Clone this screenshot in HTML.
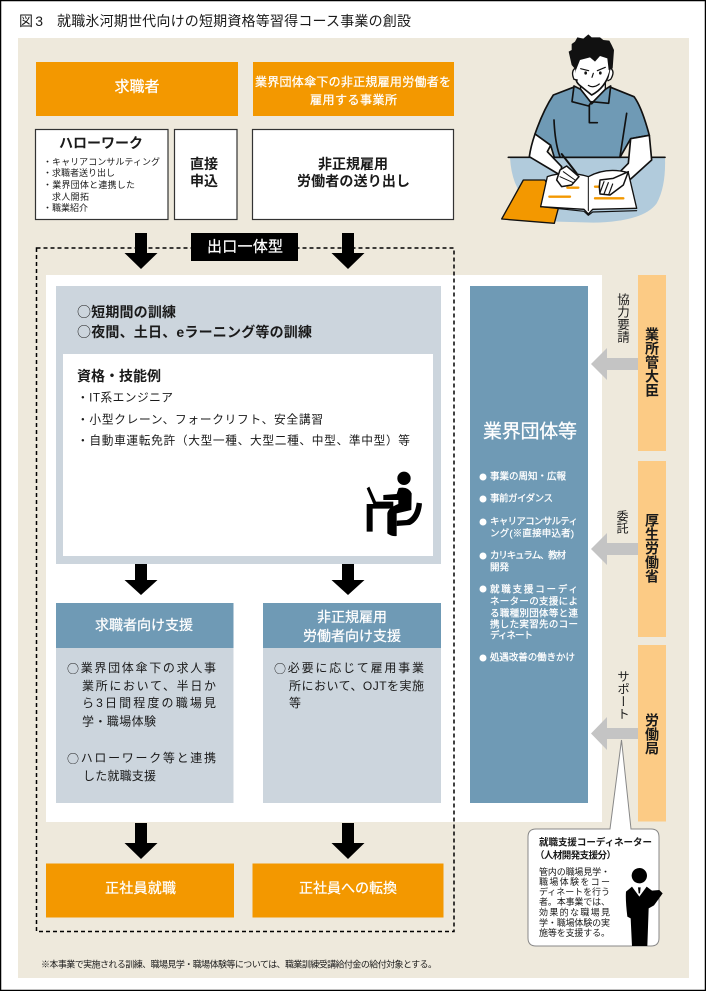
<!DOCTYPE html>
<html lang="ja"><head><meta charset="utf-8">
<style>
html,body{margin:0;padding:0;background:#fff}
svg{display:block}
text{font-family:"Liberation Sans","Noto Sans CJK JP",sans-serif;dominant-baseline:central;fill:#1a1a1a}
.b{font-weight:700}
.w{fill:#fff}
.m{stroke:#fff;stroke-width:.25}
.c{font-family:"Noto Sans CJK JP",sans-serif;font-weight:400}
.v{writing-mode:vertical-rl;dominant-baseline:auto}
</style></head><body>
<svg width="706" height="991" viewBox="0 0 706 991" xmlns="http://www.w3.org/2000/svg">
<defs>
<path id="ar" d="M-6 0H6V20H16.500L0 36L-16.500 20H-6Z" fill="#000"/>
<path id="ar2" d="M-6 0H6V16H16.500L0 31L-16.500 16H-6Z" fill="#000"/>
</defs>
<rect x="0.500" y="0.500" width="705" height="990" fill="#fff" stroke="#000" stroke-width="1.500"/>
<text x="19" y="21" font-size="14" textLength="24">図3</text>
<text x="57" y="21" font-size="14" textLength="354">就職氷河期世代向けの短期資格等習得コース事業の創設</text>
<rect x="18" y="38" width="671" height="940" fill="#eee9dc"/>

<rect x="36" y="62" width="202" height="54" fill="#f39800"/>
<rect x="253" y="62" width="201" height="54" fill="#f39800"/>
<text class="w m" x="114.500" y="87" font-size="15" textLength="45">求職者</text>
<text class="w m" x="255" y="82" font-size="12" textLength="196">業界団体傘下の非正規雇用労働者を</text>
<text class="w m" x="310" y="100" font-size="12" textLength="87">雇用する事業所</text>

<g fill="#fff" stroke="#333" stroke-width="1.200">
<rect x="35.500" y="129.500" width="132.500" height="90"/>
<rect x="174.500" y="129.500" width="62.500" height="90"/>
<rect x="252.500" y="129.500" width="201" height="90"/>
</g>
<text class="b" x="59" y="143" font-size="14" textLength="84">ハローワーク</text>
<g font-size="9">
<text x="43" y="162" textLength="117">・キャリアコンサルティング</text>
<text x="43" y="173" textLength="72">・求職者送り出し</text>
<text x="43" y="185" textLength="92">・業界団体と連携した</text>
<text x="52" y="197" textLength="37">求人開拓</text>
<text x="43" y="208" textLength="45">・職業紹介</text>
</g>
<text class="b" x="190" y="164" font-size="14" textLength="28">直接</text>
<text class="b" x="190" y="181" font-size="14" textLength="28">申込</text>
<text class="b" x="318" y="164" font-size="14" textLength="70">非正規雇用</text>
<text class="b" x="297" y="181" font-size="14" textLength="113">労働者の送り出し</text>

<rect x="46" y="275" width="556" height="547" fill="#fff"/>
<rect x="36.500" y="248" width="417.500" height="683.500" fill="none" stroke="#000" stroke-width="1.500" stroke-dasharray="4 3"/>
<rect x="191" y="233" width="107" height="28" fill="#000"/>
<text class="w m" x="207" y="247" font-size="15" textLength="76">出口一体型</text>
<use href="#ar" x="141" y="233"/>
<use href="#ar" x="348" y="233"/>

<rect x="56" y="286" width="385" height="278" fill="#ccd5dd"/>
<rect x="63" y="354" width="370" height="202" fill="#fff"/>
<text class="b" x="77" y="312" font-size="14" textLength="99"><tspan class="c">○</tspan>短期間の訓練</text>
<text class="b" x="77" y="332" font-size="14" textLength="235"><tspan class="c">○</tspan>夜間、土日、eラーニング等の訓練</text>
<text class="b" x="77" y="376" font-size="14" textLength="84">資格・技能例</text>
<g font-size="11.700">
<text x="77" y="398" textLength="96">・IT系エンジニア</text>
<text x="77" y="420" textLength="246">・小型クレーン、フォークリフト、安全講習</text>
<text x="77" y="441" textLength="333">・自動車運転免許（大型一種、大型二種、中型、準中型）等</text>
</g>
<g transform="translate(30,280) scale(.33333)">
<circle cx="1122" cy="595" r="20" fill="#000"/>
<path d="M1106 624Q1135 618 1145 640L1144 690L1100 700L1100 768Q1085 770 1072 760L1072 700Q1074 684 1105 672L1105 660L1060 660L1060 645L1100 642Z" fill="#000"/>
<path d="M1010 625L1018 620L1038 665L1090 665L1090 672L1030 672Z" fill="#000"/>
<path d="M1010 672H1090V686H1028V755H1010Z" fill="#000"/>
<path d="M1160 668L1176 670Q1172 720 1140 735L1100 738L1100 722L1130 720Q1155 710 1160 668Z" fill="#000"/>
</g>

<use href="#ar2" x="141" y="564"/>
<use href="#ar2" x="348" y="564"/>

<rect x="56" y="603" width="177.500" height="200" fill="#ccd5dd"/>
<rect x="263" y="603" width="178" height="200" fill="#ccd5dd"/>
<rect x="56" y="603" width="177.500" height="45" fill="#6f9ab5"/>
<rect x="263" y="603" width="178" height="45" fill="#6f9ab5"/>
<text class="w m" x="95" y="625" font-size="14" textLength="98">求職者向け支援</text>
<text class="w m" x="317" y="617" font-size="14" textLength="70">非正規雇用</text>
<text class="w m" x="303" y="636" font-size="14" textLength="98">労働者向け支援</text>
<g font-size="12">
<text x="67" y="668" textLength="149"><tspan class="c">○</tspan>業界団体傘下の求人事</text>
<text x="82" y="686" textLength="134">業所において、半日か</text>
<text x="82" y="703" textLength="134">ら3日間程度の職場見</text>
<text x="82" y="721.500" textLength="74">学・職場体験</text>
<text x="67" y="758" textLength="149"><tspan class="c">○</tspan>ハローワーク等と連携</text>
<text x="83" y="776" textLength="73">した就職支援</text>
<text x="274" y="668" textLength="150"><tspan class="c">○</tspan>必要に応じて雇用事業</text>
<text x="289" y="686" textLength="135">所において、OJTを実施</text>
<text x="289" y="703" textLength="12">等</text>
</g>
<use href="#ar" x="141" y="823"/>
<use href="#ar" x="348" y="823"/>
<rect x="46" y="863.500" width="188" height="54" fill="#f39800"/>
<rect x="252.500" y="863.500" width="191" height="54" fill="#f39800"/>
<text class="w m" x="105" y="888" font-size="14" textLength="71">正社員就職</text>
<text class="w m" x="299" y="888" font-size="14" textLength="98">正社員への転換</text>
<text x="41" y="964.500" font-size="9" textLength="396">※本事業で実施される訓練、職場見学・職場体験等については、職業訓練受講給付金の給付対象とする。</text>

<rect x="470" y="286" width="118" height="517" fill="#6f9ab5"/>
<text class="w m" x="483" y="432" font-size="19" textLength="94">業界団体等</text>
<g fill="#fff">
<circle cx="483" cy="477" r="3.500"/><circle cx="483" cy="499" r="3.500"/><circle cx="483" cy="522" r="3.500"/><circle cx="483" cy="556" r="3.500"/><circle cx="483" cy="589" r="3.500"/><circle cx="483" cy="658" r="3.500"/>
</g>
<g font-size="9.500">
<text class="w m" x="490" y="477" textLength="76">事業の周知・広報</text>
<text class="w m" x="490" y="499" textLength="63">事前ガイダンス</text>
<text class="w m" x="490" y="522" textLength="88">キャリアコンサルティ</text>
<text class="w m" x="490" y="534" textLength="84">ング(※直接申込者)</text>
<text class="w m" x="490" y="556" textLength="76">カリキュラム、教材</text>
<text class="w m" x="490" y="568" textLength="19">開発</text>
<text class="w m" x="490" y="590" textLength="88">就職支援コーディ</text>
<text class="w m" x="490" y="602" textLength="88">ネーターの支援によ</text>
<text class="w m" x="490" y="614" textLength="88">る職種別団体等と連</text>
<text class="w m" x="490" y="625" textLength="88">携した実習先のコー</text>
<text class="w m" x="490" y="636" textLength="43">ディネート</text>
<text class="w m" x="490" y="658" textLength="85">処遇改善の働きかけ</text>
</g>

<g fill="#fccb85">
<rect x="638" y="275" width="28" height="176"/>
<rect x="638" y="461" width="28" height="176"/>
<rect x="638" y="645" width="28" height="176.500"/>
</g>
<g fill="#c4c4c4">
<path d="M638 358V370H607V380L591 364L607 348V358Z"/>
<path d="M638 543V555H607V565L591 549L607 533V543Z"/>
<path d="M638 728V739H607V750L591 733.500L607 717V728Z"/>
</g>
<g class="b" font-size="14" font-weight="700">
<text class="v" x="652" y="327">業所管大臣</text>
<text class="v" x="652" y="513">厚生労働省</text>
<text class="v" x="652" y="713">労働局</text>
</g>
<g font-size="12.500">
<text class="v" x="622" y="293">協力要請</text>
<text class="v" x="622" y="510" style="font-size:12px">委託</text>
<text class="v" x="622" y="670">サポート</text>
</g>

<path d="M536 829H610L621.500 740L631 829H651Q659 829 659 837V938Q659 946 651 946H536Q528 946 528 938V837Q528 829 536 829Z" fill="#fff" stroke="#888" stroke-width="1"/>
<text class="b" x="539" y="843" font-size="9.500" textLength="113">就職支援コーディネーター</text>
<text class="b" x="535" y="856" font-size="9.500" textLength="81">（人材開発支援分）</text>
<g font-size="9">
<text x="539" y="872" textLength="71">管内の職場見学・</text>
<text x="539" y="882" textLength="71">職場体験をコー</text>
<text x="539" y="892" textLength="71">ディネートを行う</text>
<text x="539" y="902" textLength="71">者。本事業では、</text>
<text x="539" y="912.500" textLength="71">効果的な職場見</text>
<text x="539" y="923" textLength="71">学・職場体験の実</text>
<text x="539" y="933" textLength="71">施等を支援する。</text>
</g>
<g transform="translate(500,660) scale(.33333)">
<circle cx="418" cy="647" r="23" fill="#000"/>
<path d="M396 680L418 710L440 680L456 692L478 690L488 700L462 736L446 745L442 858H396L392 775L382 770Q376 720 378 695Z" fill="#000"/>
<path d="M411 680H425L421 700H415Z" fill="#fff"/>
<path d="M414 682H422L420 700H416Z" fill="#000"/>
</g>

<g transform="translate(460,0) scale(.33333)" stroke="#111" stroke-width="5" stroke-linejoin="round" stroke-linecap="round">
<path d="M150 472H615Q618 560 590 610Q550 665 400 668L290 665L200 600Q155 560 150 472Z" fill="#b1cbdc" stroke="none"/>
<path d="M145 472H615" fill="none"/>
<path d="M190 540H255L295 625L283 670L125 657Z" fill="#f39800" stroke-width="4"/>
<path d="M340 262L280 285Q250 330 225 402L272 436L283 472H480L512 416L568 406Q545 320 522 290L452 262L395 310Z" fill="#6f9ab5"/>
<path d="M225 402Q212 440 208 470L300 525L305 500L262 455L272 436Z" fill="#fff"/>
<path d="M568 406L512 416L505 490L480 515L470 570L500 548L575 480Z" fill="#fff"/>
<path d="M282 360Q285 430 300 470M500 340L480 470" fill="none"/>
<path d="M360 240L362 268L395 312L436 268L436 240Z" fill="#fff" stroke-width="4"/>
<path d="M342 258L336 305L386 318L395 305L446 310L452 258L436 268L395 310L362 268Z" fill="#6f9ab5"/>
<path d="M388 316V368H412" fill="none"/>
<path d="M347 195Q340 240 358 255L395 285Q435 265 450 215L452 170L400 150L350 170Z" fill="#fff"/>
<path d="M345 205Q332 215 342 238L352 240M452 205Q466 215 452 238L444 242" fill="#fff" stroke-width="4"/>
<path d="M335 132L345 125L352 112L370 116L385 103L395 112L420 112L430 120L448 122L455 135L462 150L458 205L446 210L442 175L420 168L405 185L390 172L360 180L348 210L335 195L326 155L335 150Z" fill="#111" stroke="none"/>
<ellipse cx="377" cy="219" rx="4" ry="5" fill="#111" stroke="none"/>
<ellipse cx="421" cy="219" rx="4" ry="5" fill="#111" stroke="none"/>
<path d="M362 206L386 212M412 212L436 202M400 220L396 232M385 256Q400 266 418 252" fill="none" stroke-width="3.500"/>
<path d="M262 530Q320 510 385 530Q440 500 505 518L530 625L398 628L385 642L372 628L242 620Z" fill="#fff" stroke-width="4"/>
<path d="M242 620L372 634L385 646L398 636L530 632" fill="none" stroke-width="3.500"/>
<path d="M385 530V632" fill="none" stroke-width="3"/>
<g stroke="#f39800" stroke-width="7" fill="none">
<path d="M268 590H330M322 563H355M405 560H440M405 595H490"/>
</g>
<path d="M300 510L320 498L357 530L335 555L305 560L290 540Z" fill="#fff" stroke-width="4.500"/>
<path d="M305 462L350 520" fill="none" stroke-width="6"/>
<path d="M300 530L340 548M310 515L345 540" fill="none" stroke-width="3"/>
<path d="M420 540L460 535L505 515L490 555L450 585L420 582L418 560Z" fill="#fff" stroke-width="4.500"/>
<path d="M432 545L420 578M445 548L432 582M458 552L446 584" fill="none" stroke-width="3.500"/>
</g>
</svg>
</body></html>
